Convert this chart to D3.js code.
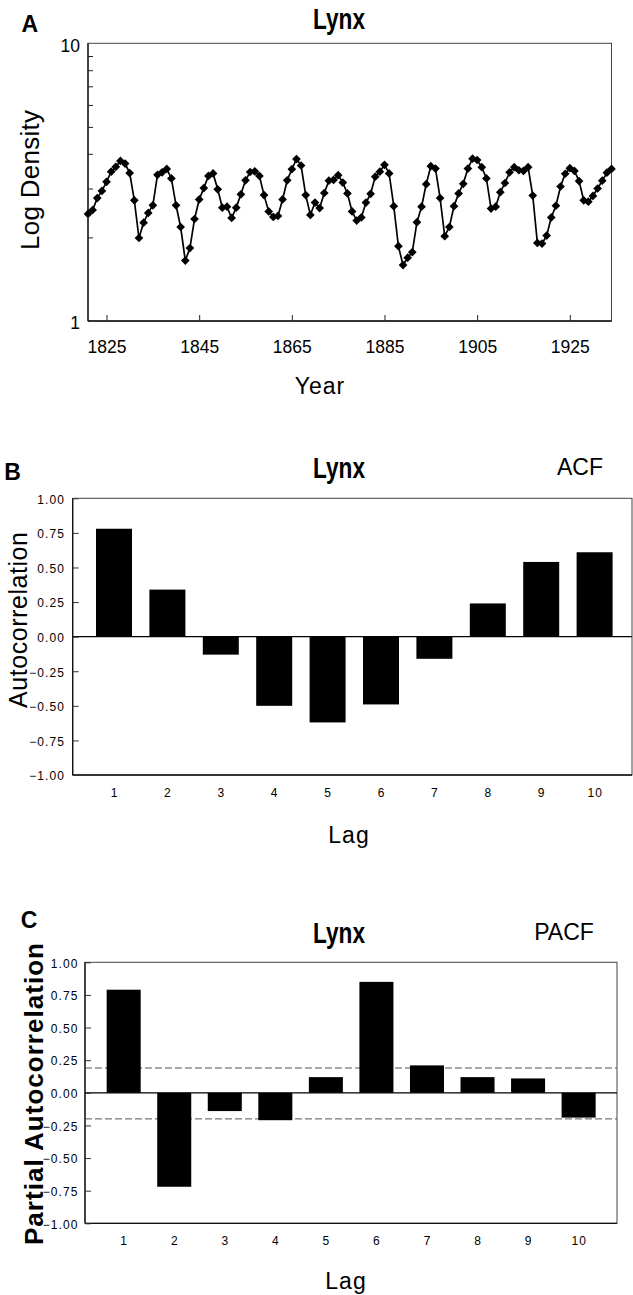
<!DOCTYPE html>
<html><head><meta charset="utf-8">
<script src="https://cdn.jsdelivr.net/npm/d3@7"></script>
<style>
body{margin:0;background:#fff}
svg{display:block}
text{font-family:"Liberation Sans",Arial,Helvetica,sans-serif;fill:#000}
</style>
</head><body>
<svg id="c" width="633" height="1295"></svg>
<script>
// ---------- DATA ----------
const firstYear = 1821;
const logDensity = [
2.43,2.51,2.77,2.94,3.17,3.45,3.59,3.77,3.69,3.41,
2.72,1.99,2.26,2.45,2.61,3.36,3.43,3.53,3.26,2.61,
2.18,1.65,1.83,2.33,2.74,3.01,3.33,3.40,2.98,2.56,
2.58,2.35,2.56,2.86,3.21,3.44,3.46,3.33,2.84,2.48,
2.37,2.39,2.74,3.21,3.52,3.83,3.63,2.84,2.41,2.67,
2.55,2.89,3.20,3.22,3.35,3.15,2.88,2.48,2.30,2.36,
2.67,2.87,3.31,3.45,3.65,3.40,2.59,1.86,1.59,1.69,
1.77,2.27,2.58,3.11,3.61,3.54,2.77,2.02,2.18,2.59,
2.88,3.12,3.54,3.84,3.80,3.58,3.26,2.54,2.58,2.91,
3.14,3.43,3.58,3.49,3.47,3.58,2.83,1.91,1.90,2.03,
2.36,2.60,3.05,3.39,3.55,3.47,3.19,2.72,2.69,2.82,
3.00,3.20,3.42,3.53];
const yearTicks = [1825,1845,1865,1885,1905,1925];
const densityMajorTicks = [1,10];
const densityMinorTicks = [2,3,4,5,6,7,8,9];

const lags = [1,2,3,4,5,6,7,8,9,10];
const acf  = [0.78,0.34,-0.13,-0.50,-0.62,-0.49,-0.16,0.24,0.54,0.61];
const pacf = [0.79,-0.72,-0.14,-0.21,0.12,0.85,0.21,0.12,0.11,-0.19];
const pacfLimits = [0.19,-0.20];
const corrTicks = [1.00,0.75,0.50,0.25,0.00,-0.25,-0.50,-0.75,-1.00];

// ---------- DRAW ----------
const svg = d3.select("#c");
svg.append("rect").attr("width",633).attr("height",1295).attr("fill","#fff");

function frame(g, b){
  g.append("rect").attr("x",b.left).attr("y",b.top)
   .attr("width",b.right-b.left).attr("height",b.bottom-b.top)
   .attr("fill","none").attr("stroke","#444").attr("stroke-width",1);
  g.append("line").attr("x1",b.left).attr("x2",b.left).attr("y1",b.top).attr("y2",b.bottom)
   .attr("stroke","#111").attr("stroke-width",1.3);
  g.append("line").attr("x1",b.left).attr("x2",b.right).attr("y1",b.bottom).attr("y2",b.bottom)
   .attr("stroke","#111").attr("stroke-width",1.3);
}
function txt(t, x, y, opts){
  const e = svg.append("text").attr("x",x).attr("y",y).text(t);
  Object.entries(opts||{}).forEach(([k,v])=>e.attr(k,v));
  return e;
}
function vtxt(t, x, y, opts){
  const e = svg.append("text").attr("transform",`translate(${x},${y}) rotate(-90)`)
    .attr("text-anchor","middle").text(t);
  Object.entries(opts||{}).forEach(([k,v])=>e.attr(k,v));
  return e;
}

// ===== Panel A =====
const A = {left:88, right:611.5, top:43.3, bottom:321};
const gA = svg.append("g");
const xA = d3.scaleLinear().domain([firstYear, firstYear+logDensity.length-1]).range([A.left,A.right]);
const yA = d3.scaleLog().domain([1,10]).range([A.bottom,A.top]);
frame(gA, A);

const axA_y = gA.append("g").attr("transform",`translate(${A.left},0)`)
  .call(d3.axisLeft(yA).tickValues(densityMinorTicks).tickSize(-5).tickFormat(""));
axA_y.select(".domain").remove();
axA_y.selectAll("line").attr("stroke","#222");

const axA_y2 = gA.append("g").attr("transform",`translate(${A.left},0)`)
  .call(d3.axisLeft(yA).tickValues(densityMajorTicks).tickSize(0).tickFormat(d3.format("d")));
axA_y2.select(".domain").remove();
axA_y2.selectAll("text").attr("x",-8).attr("dy",null).attr("y",7.8)
  .attr("font-size",17.5).attr("font-family",null).attr("fill","#000");

const axA_x = gA.append("g").attr("transform",`translate(0,${A.bottom})`)
  .call(d3.axisBottom(xA).tickValues(yearTicks).tickSize(-6).tickFormat(d3.format("d")));
axA_x.select(".domain").remove();
axA_x.selectAll("line").attr("stroke","#222");
axA_x.selectAll("text").attr("dy",null).attr("y",32.3)
  .attr("font-size",17.5).attr("font-family",null).attr("fill","#000");

const line = d3.line().x((d,i)=>xA(firstYear+i)).y(d=>yA(d));
gA.append("path").datum(logDensity).attr("d",line)
  .attr("fill","none").attr("stroke","#000").attr("stroke-width",1.7);
const diamond = d3.symbol(d3.symbolSquare, 38);
gA.selectAll("path.pt").data(logDensity).join("path").attr("class","pt")
  .attr("d",diamond)
  .attr("transform",(d,i)=>`translate(${xA(firstYear+i)},${yA(d)}) rotate(45)`)
  .attr("fill","#000");

txt("A", 21.5, 31.7, {"font-size":23,"font-weight":"bold"});
txt("Lynx", 339, 29.3, {"font-size":29,"font-weight":"bold","text-anchor":"middle",
  "textLength":52,"lengthAdjust":"spacingAndGlyphs"});
txt("Year", 320, 394, {"font-size":23,"text-anchor":"middle","letter-spacing":"1px"});
vtxt("Log Density", 39.3, 180, {"font-size":26,"textLength":140,"lengthAdjust":"spacing"});

// ===== Bar panels =====
function barPanel(cfg){
  const b = cfg.box;
  const g = svg.append("g");
  const x = d3.scaleBand().domain(lags).range(cfg.band).paddingInner(cfg.pad).paddingOuter(cfg.pad/2);
  const y = d3.scaleLinear().domain([-1,1]).range([b.bottom,b.top]);
  frame(g, b);
  (cfg.limits||[]).forEach(v=>{
    g.append("line").attr("x1",b.left).attr("x2",b.right).attr("y1",y(v)).attr("y2",y(v))
     .attr("stroke","#555").attr("stroke-width",1).attr("stroke-dasharray","7,3");
  });
  g.selectAll("rect.bar").data(cfg.values).join("rect").attr("class","bar")
   .attr("x",(d,i)=>x(lags[i])).attr("width",x.bandwidth())
   .attr("y",d=>Math.min(y(d),y(0))).attr("height",d=>Math.abs(y(d)-y(0)))
   .attr("fill","#000");
  g.append("line").attr("x1",b.left).attr("x2",b.right).attr("y1",y(0)).attr("y2",y(0))
   .attr("stroke","#000").attr("stroke-width",1.2);
  const ay = g.append("g").attr("transform",`translate(${b.left},0)`)
    .call(d3.axisLeft(y).tickValues(corrTicks).tickSize(-6).tickFormat(d3.format(".2f")));
  ay.select(".domain").remove();
  ay.selectAll("line").attr("stroke","#333");
  ay.selectAll("text").attr("x",-cfg.labGap).attr("dy",null).attr("y",4.8)
    .attr("font-size",12).attr("letter-spacing","1.1px").attr("font-family",null).attr("fill","#000");
  const ax = g.append("g").attr("transform",`translate(0,${b.bottom})`)
    .call(d3.axisBottom(x).tickSize(0));
  ax.select(".domain").remove();
  ax.selectAll("text").attr("dy",null).attr("y",cfg.lagY-b.bottom).attr("dx","0.55px")
    .attr("font-size",12).attr("letter-spacing","1.1px").attr("font-family",null).attr("fill","#000");
  return g;
}

barPanel({box:{left:72.7,right:632,top:498.3,bottom:775}, band:[87.3,621.3], pad:0.326,
  values:acf, labGap:7.7, lagY:796.7});
txt("B", 4.3, 480, {"font-size":23,"font-weight":"bold"});
txt("Lynx", 339, 477.5, {"font-size":29,"font-weight":"bold","text-anchor":"middle",
  "textLength":52,"lengthAdjust":"spacingAndGlyphs"});
txt("ACF", 580, 475, {"font-size":23,"text-anchor":"middle"});
txt("Lag", 349, 843, {"font-size":23,"text-anchor":"middle","letter-spacing":"1px"});
vtxt("Autocorrelation", 26.7, 620, {"font-size":25,"textLength":176,"lengthAdjust":"spacing"});

barPanel({box:{left:85,right:617,top:962.3,bottom:1223.3}, band:[98.4,603.9], pad:0.327,
  values:pacf, limits:pacfLimits, labGap:6.5, lagY:1245});
txt("C", 20.7, 927.8, {"font-size":23,"font-weight":"bold"});
txt("Lynx", 339, 942.5, {"font-size":29,"font-weight":"bold","text-anchor":"middle",
  "textLength":52,"lengthAdjust":"spacingAndGlyphs"});
txt("PACF", 564, 940, {"font-size":23,"text-anchor":"middle"});
txt("Lag", 346, 1289, {"font-size":23,"text-anchor":"middle","letter-spacing":"1px"});
vtxt("Partial Autocorrelation", 42.7, 1094, {"font-size":26,"font-weight":"bold","textLength":302,"lengthAdjust":"spacing"});
</script>
</body></html>
